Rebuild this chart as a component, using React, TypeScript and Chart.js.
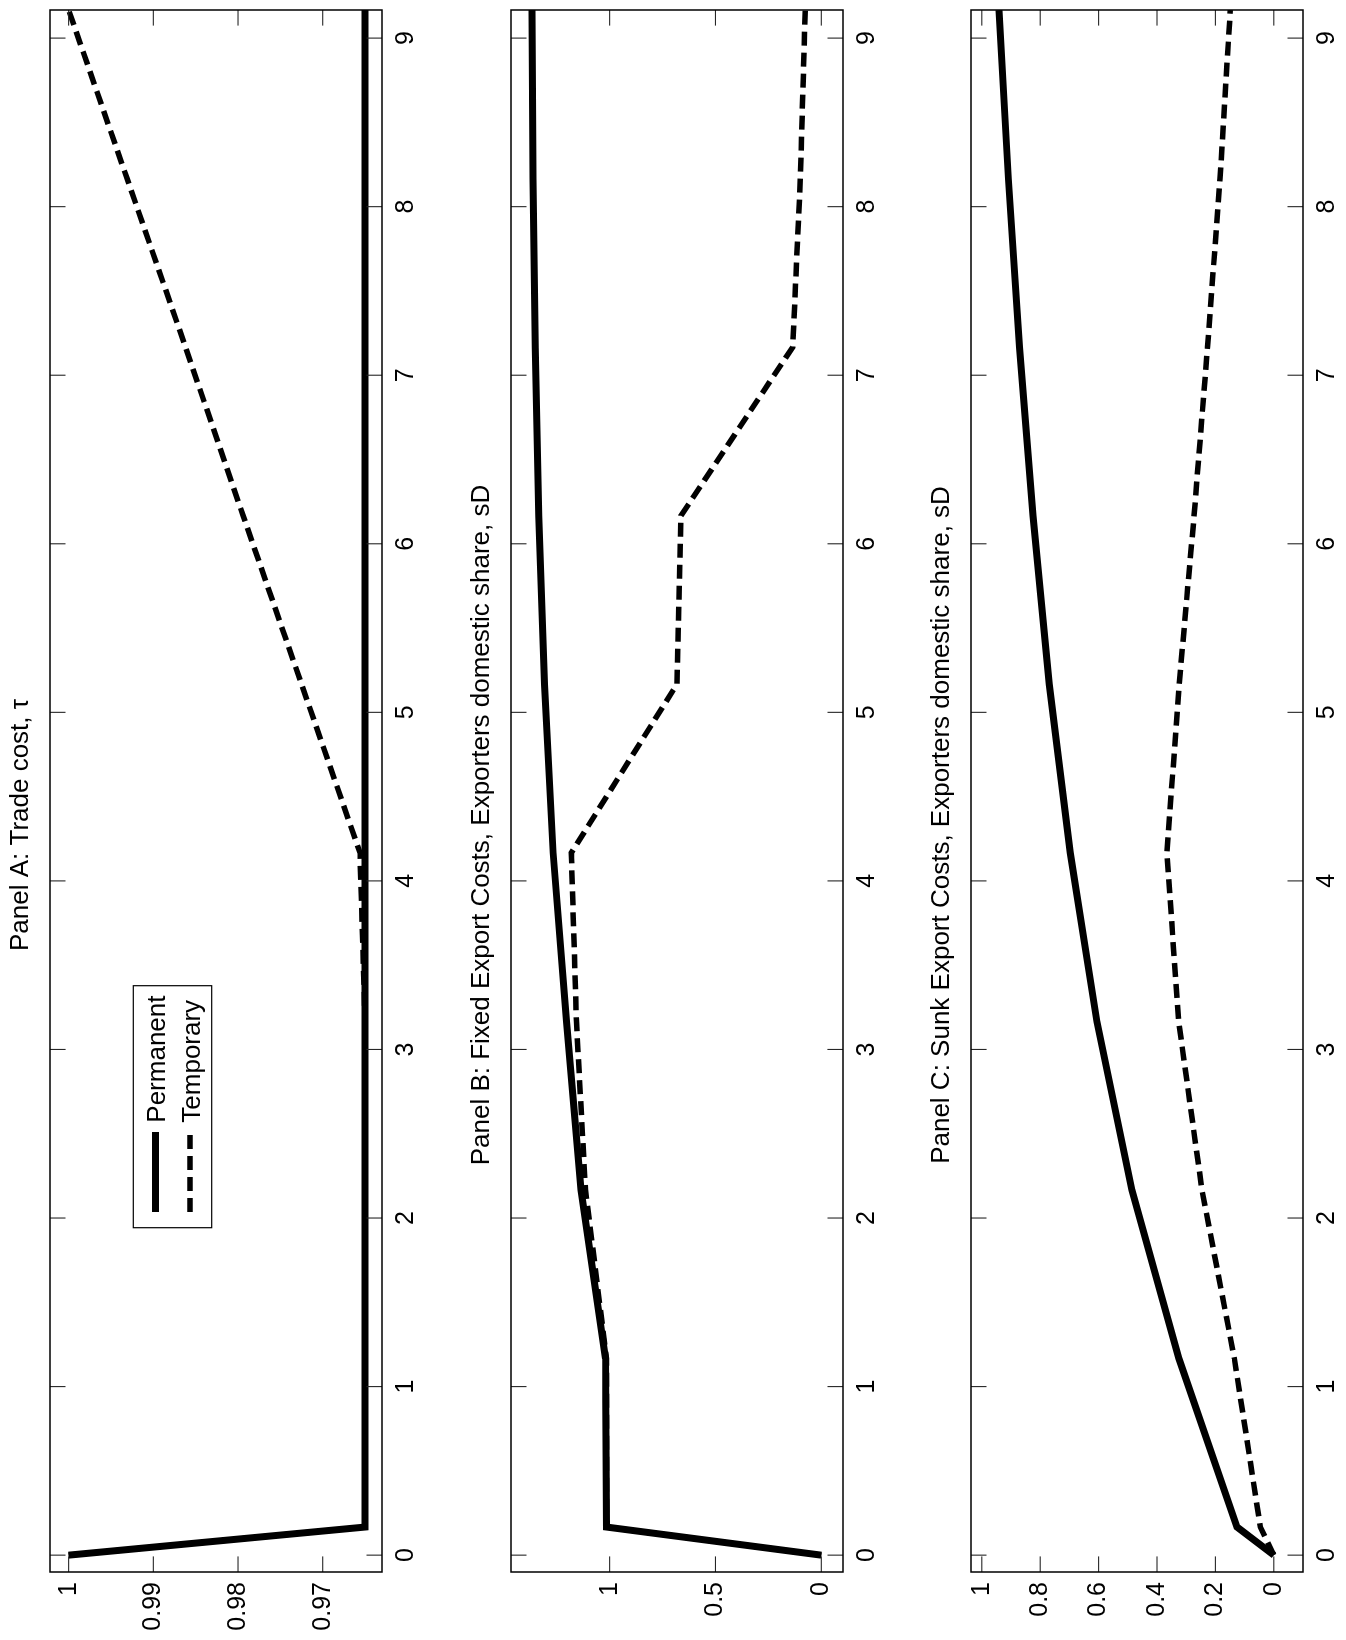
import React, { useEffect, useRef } from 'react';
import { Chart, registerables } from 'chart.js';

Chart.register(...registerables);

const FONT = '"Liberation Sans", Arial, Helvetica, sans-serif';

// time axis (years)
const TIME = [0, 0.1667, 1.1667, 2.1667, 3.1667, 4.1667, 5.1667, 6.1667, 7.1667, 8.1667, 9.1667];
const TIME_TICKS = [0, 1, 2, 3, 4, 5, 6, 7, 8, 9];
const SERIES = ['Permanent', 'Temporary'];

// Panel A
const A_TITLE = 'Panel A: Trade cost, \u03c4';
const A_PERMANENT = [1, 0.965, 0.965, 0.965, 0.965, 0.965, 0.965, 0.965, 0.965, 0.965, 0.965];
const A_TEMPORARY = [1, 0.965, 0.965, 0.965, 0.965, 0.9656, 0.9725, 0.9794, 0.9862, 0.9931, 1.0];
const A_TICKS = [0.97, 0.98, 0.99, 1];
const A_RANGE = [0.963, 1.0022];

// Panel B
const B_TITLE = 'Panel B: Fixed Export Costs, Exporters domestic share, sD';
const B_PERMANENT = [0, 1.015, 1.02, 1.135, 1.204, 1.267, 1.308, 1.335, 1.351, 1.362, 1.367];
const B_TEMPORARY = [0, 1.015, 1.015, 1.114, 1.157, 1.181, 0.682, 0.663, 0.135, 0.099, 0.076];
const B_TICKS = [0, 0.5, 1];
const B_RANGE = [-0.1025, 1.466];

// Panel C
const C_TITLE = 'Panel C: Sunk Export Costs, Exporters domestic share, sD';
const C_PERMANENT = [0, 0.126, 0.325, 0.486, 0.606, 0.697, 0.769, 0.825, 0.871, 0.909, 0.941];
const C_TEMPORARY = [0, 0.046, 0.135, 0.246, 0.326, 0.366, 0.324, 0.273, 0.227, 0.184, 0.149];
const C_TICKS = [0, 0.2, 0.4, 0.6, 0.8, 1];
const C_RANGE = [-0.1, 1.037];

const fmt = (v: any) => String(parseFloat(Number(v).toFixed(6)));

const framePlugin = {
  id: 'matlabFrame',
  afterDraw(chart: any, _args: any, opts: any) {
    const { ctx, chartArea: a, scales } = chart;
    const tl = 15.6;
    ctx.save();
    ctx.strokeStyle = '#262626';
    ctx.lineWidth = 1.1;
    ctx.setLineDash([]);
    const seg = (x1: number, y1: number, x2: number, y2: number) => {
      ctx.beginPath();
      ctx.moveTo(x1, y1);
      ctx.lineTo(x2, y2);
      ctx.stroke();
    };
    scales.x.ticks.forEach((t: any) => {
      const px = scales.x.getPixelForValue(t.value);
      seg(px, a.top, px, a.top + tl);
      seg(px, a.bottom, px, a.bottom - tl);
    });
    scales.y.ticks.forEach((t: any) => {
      const py = scales.y.getPixelForValue(t.value);
      seg(a.left, py, a.left + tl, py);
      seg(a.right, py, a.right - tl, py);
    });
    ctx.strokeStyle = '#000';
    ctx.lineWidth = 1.5;
    ctx.strokeRect(a.left, a.top, a.right - a.left, a.bottom - a.top);

    if (opts && opts.legend) {
      const bx = a.left + 344.3;
      const by = a.top + 83.3;
      const bw = 242;
      const bh = 78.4;
      ctx.fillStyle = '#fff';
      ctx.fillRect(bx, by, bw, bh);
      ctx.lineWidth = 1.2;
      ctx.strokeStyle = '#000';
      ctx.strokeRect(bx, by, bw, bh);
      const rows = [22.3, 56.7];
      chart.data.datasets.forEach((ds: any, i: number) => {
        const cy = by + rows[i];
        ctx.save();
        ctx.strokeStyle = ds.borderColor;
        ctx.lineWidth = ds.borderWidth;
        ctx.setLineDash(ds.borderDash || []);
        ctx.lineCap = 'butt';
        seg(bx + 15.7, cy, bx + 95.7, cy);
        ctx.restore();
        ctx.fillStyle = '#000';
        ctx.font = `26px ${FONT}`;
        ctx.textAlign = 'left';
        ctx.textBaseline = 'alphabetic';
        ctx.fillText(ds.label, bx + 105, cy + 9.5);
      });
    }
    ctx.restore();
  },
};

type Panel = {
  title: string;
  permanent: number[];
  temporary: number[];
  ticks: number[];
  range: number[];
  legend: boolean;
  top: number;
};

const PANELS: Panel[] = [
  { title: A_TITLE, permanent: A_PERMANENT, temporary: A_TEMPORARY, ticks: A_TICKS, range: A_RANGE, legend: true, top: 0 },
  { title: B_TITLE, permanent: B_PERMANENT, temporary: B_TEMPORARY, ticks: B_TICKS, range: B_RANGE, legend: false, top: 461 },
  { title: C_TITLE, permanent: C_PERMANENT, temporary: C_TEMPORARY, ticks: C_TICKS, range: C_RANGE, legend: false, top: 921 },
];

const CW = 1640;
const CH = 440;

function PanelChart({ p }: { p: Panel }) {
  const ref = useRef<HTMLCanvasElement | null>(null);
  useEffect(() => {
    if (!ref.current) return;
    const tickFont = { family: FONT, size: 25, weight: 'normal' as const };
    const chart = new Chart(ref.current, {
      type: 'line',
      data: {
        datasets: [
          {
            label: SERIES[0],
            data: TIME.map((t, i) => ({ x: t, y: p.permanent[i] })),
            borderColor: '#000',
            backgroundColor: '#000',
            borderWidth: 7,
            pointRadius: 0,
            fill: false,
            tension: 0,
            borderJoinStyle: 'miter',
            clip: 0,
          } as any,
          {
            label: SERIES[1],
            data: TIME.map((t, i) => ({ x: t, y: p.temporary[i] })),
            borderColor: '#000',
            backgroundColor: '#000',
            borderWidth: 5.5,
            borderDash: [14, 7],
            pointRadius: 0,
            fill: false,
            tension: 0,
            borderJoinStyle: 'miter',
            clip: 0,
          } as any,
        ],
      },
      options: {
        responsive: false,
        animation: false,
        devicePixelRatio: 1,
        layout: { padding: { left: 0, right: 10, top: 0, bottom: 0 } },
        plugins: {
          legend: { display: false },
          tooltip: { enabled: false },
          title: {
            display: true,
            text: p.title,
            color: '#000',
            font: { family: FONT, size: 26, weight: 'normal' },
            padding: { top: 5.2, bottom: 13.6 },
          },
          matlabFrame: { legend: p.legend },
        } as any,
        scales: {
          x: {
            type: 'linear',
            min: -0.1,
            max: 9.1667,
            afterBuildTicks: (s: any) => {
              s.ticks = TIME_TICKS.map((v) => ({ value: v }));
            },
            afterFit: (s: any) => {
              s.height = CH - 50 - 332;
            },
            grid: { display: false, drawTicks: false },
            border: { display: false },
            ticks: {
              autoSkip: false,
              maxRotation: 0,
              minRotation: 0,
              padding: 9,
              color: '#000',
              font: tickFont,
              callback: (v: any) => fmt(v),
            },
          },
          y: {
            type: 'linear',
            min: p.range[0],
            max: p.range[1],
            afterBuildTicks: (s: any) => {
              s.ticks = p.ticks.map((v) => ({ value: v }));
            },
            afterFit: (s: any) => {
              s.width = 68;
            },
            grid: { display: false, drawTicks: false },
            border: { display: false },
            ticks: {
              autoSkip: false,
              padding: 10,
              color: '#000',
              font: tickFont,
              callback: (v: any) => fmt(v),
            },
          },
        },
      } as any,
      plugins: [framePlugin as any],
    });
    return () => chart.destroy();
  }, [p]);
  return (
    <canvas
      ref={ref}
      width={CW}
      height={CH}
      style={{ position: 'absolute', left: 0, top: p.top, width: CW, height: CH }}
    />
  );
}

export default function App() {
  return (
    <div
      style={{
        position: 'absolute',
        left: 0,
        top: 0,
        width: 1346,
        height: 1640,
        overflow: 'hidden',
        background: '#fff',
      }}
    >
      <div
        style={{
          position: 'absolute',
          left: 0,
          top: 0,
          width: 1640,
          height: 1346,
          transformOrigin: '0 0',
          transform: 'translate(0px, 1640px) rotate(-90deg)',
        }}
      >
        {PANELS.map((p, i) => (
          <PanelChart key={i} p={p} />
        ))}
      </div>
    </div>
  );
}
